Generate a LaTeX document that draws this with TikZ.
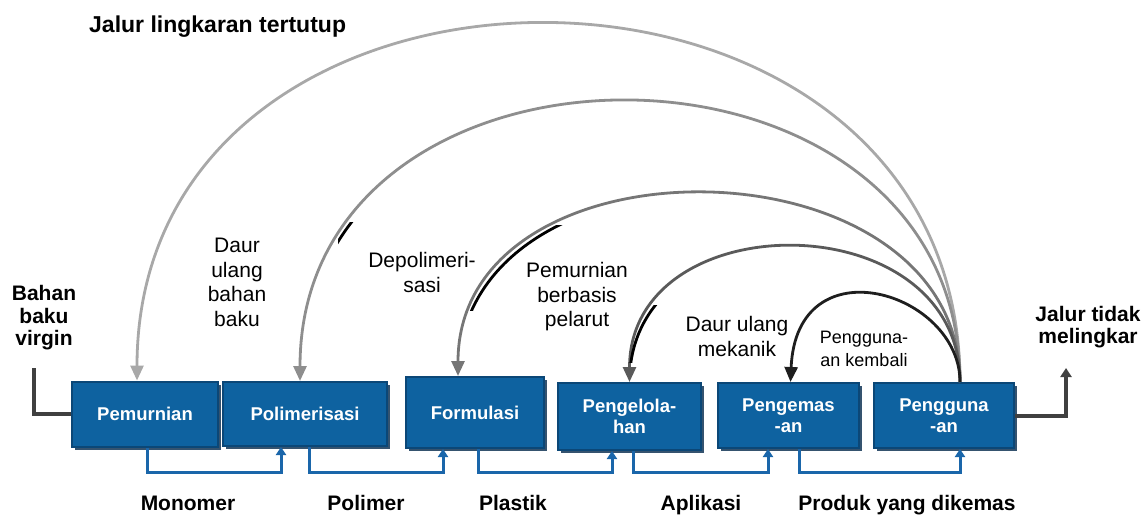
\documentclass[tikz,border=0pt]{standalone}
\usepackage{fontspec}
\setmainfont{Liberation Sans}
\usetikzlibrary{arrows.meta,shadows}
\definecolor{boxblue}{HTML}{0E62A0}
\definecolor{boxline}{HTML}{0B4777}
\definecolor{boxshade}{HTML}{35536F}
\definecolor{flowblue}{HTML}{1A66AA}
\definecolor{rawgray}{HTML}{404040}
\definecolor{arcA}{HTML}{A8A8A8}
\definecolor{arcB}{HTML}{8E8E8E}
\definecolor{arcC}{HTML}{767676}
\definecolor{arcD}{HTML}{5A5A5A}
\definecolor{arcE}{HTML}{1E1E1E}

\begin{document}
\begin{tikzpicture}[x=1pt,y=-1pt,
  stage/.style={draw=boxline,line width=2pt,fill=boxblue,text=white,align=center,inner sep=0pt,
    font=\fontsize{18.5}{21}\selectfont\bfseries,
    drop shadow={shadow xshift=3pt,shadow yshift=-3pt,fill=boxshade,opacity=1}},
  flow/.style={draw=flowblue,line width=3pt,-{Triangle[width=10pt,length=8pt]}},
  raw/.style={draw=rawgray,line width=4pt},
  cycarc/.style={draw=#1,line width=2.8pt,-{Triangle[width=13pt,length=15pt]}},
  lbl/.style={font=\fontsize{21}{24.5}\selectfont,align=center,inner sep=0pt},
  head/.style={font=\fontsize{21}{22.5}\selectfont\bfseries,align=center,inner sep=0pt}]
\useasboundingbox (0,0) rectangle (1145,516);

\node[stage,minimum width=146pt,minimum height=65pt] (pem) at (145,414) {Pemurnian};
\node[stage,minimum width=164pt,minimum height=64pt] (poli) at (305,414) {Polimerisasi};
\node[stage,minimum width=138pt,minimum height=71pt] (form) at (475,412.5) {Formulasi};
\node[stage,minimum width=143pt,minimum height=67pt] (proc) at (629.5,416.5) {Pengelola-\\han};
\node[stage,minimum width=141pt,minimum height=65pt] (pack) at (788.5,415.5) {Pengemas\\-an};
\node[stage,minimum width=140pt,minimum height=65pt] (use) at (944,415.5) {Pengguna\\-an};

\draw[flow] ([xshift=2pt]pem.south) -- ++(0,24.5) -| ([xshift=-24pt]poli.south);
\draw[flow] ([xshift=4pt]poli.south) -- ++(0,25) -| ([xshift=-32pt]form.south);
\draw[flow] ([xshift=3pt]form.south) -- ++(0,23) -| ([xshift=-17.5pt]proc.south);
\draw[flow] ([xshift=3.5pt]proc.south) -- ++(0,21) -| ([xshift=-20.5pt]pack.south);
\draw[flow] ([xshift=10.5pt]pack.south) -- ++(0,23) -| ([xshift=16pt]use.south);

\node[head,anchor=base] (mono) at (188,510) {Monomer};
\node[head,anchor=base] (poly) at (366,510) {Polimer};
\node[head,anchor=base] (plas) at (513,510) {Plastik};
\node[head,anchor=base] (appl) at (701,510) {Aplikasi};
\node[head,anchor=base] (prod) at (907,510) {Produk yang dikemas};

\coordinate (vin) at (34,368);
\coordinate (out) at (1066,368);
\draw[raw] (vin) |- (pem.west);
\draw[raw,-{Triangle[width=11pt,length=9pt]}] (use.east) -| (out);
\node[head] (virgin) at (44,318) {Bahan\\baku\\virgin};
\node[head] (open) at (1088,327) {Jalur tidak\\melingkar};

\coordinate (src) at ([xshift=16pt]use.north);
\draw[cycarc=arcA] (src) .. controls +(0,-476) and +(0,-476) .. ([xshift=-8pt]pem.north);
\draw[cycarc=arcB] (src) .. controls +(0,-373) and +(0,-373) .. ([xshift=-5pt]poli.north);
\draw[cycarc=arcC] (src) .. controls +(0,-247) and +(0,-247) .. ([xshift=-17pt]form.north);
\draw[cycarc=arcD] (src) .. controls +(0,-180) and +(0,-180) .. (proc.north);
\draw[cycarc=arcE] (src) .. controls +(0,-90) and +(6,-140) .. ([xshift=2pt]pack.north);

\begin{scope}
\clip (338,222) rectangle (364,258);
\draw[line width=2.8pt] (src) .. controls +(0,-373) and +(0,-373) .. ([xshift=-5pt]poli.north);
\end{scope}
\begin{scope}
\clip (470,225) rectangle (568,310);
\draw[line width=2.8pt] (src) .. controls +(0,-247) and +(0,-247) .. ([xshift=-17pt]form.north);
\end{scope}
\begin{scope}
\clip (620,305) rectangle (664,362);
\draw[line width=2.8pt] (src) .. controls +(0,-180) and +(0,-180) .. (proc.north);
\end{scope}

\node[lbl] (dub) at (237,282.5) {Daur\\ulang\\bahan\\baku};
\node[lbl] (dep) at (422,272.5) {Depolimeri-\\sasi};
\node[lbl] (pbp) at (577,297) {Pemurnian\\berbasis\\pelarut};
\node[lbl] (dum) at (737,336.5) {Daur ulang\\mekanik};
\node[lbl,font=\fontsize{18}{23}\selectfont] (reu) at (864,349) {Pengguna-\\an kembali};
\node[head,font=\fontsize{23}{26}\selectfont\bfseries,anchor=base west] (title) at (89,33) {Jalur lingkaran tertutup};
\end{tikzpicture}
\end{document}
